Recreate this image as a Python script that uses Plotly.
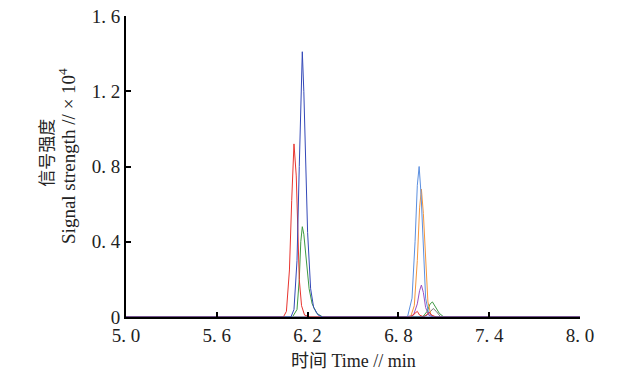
import plotly.graph_objects as go

# ---- data (time in min, signal ×10^4) ----
red_t = [5.0, 5.6, 6.04, 6.06, 6.08, 6.095, 6.11, 6.125, 6.135, 6.145, 6.16, 6.18, 6.22, 6.88, 6.91, 6.925, 6.94, 6.97, 6.99, 7.005, 7.02, 7.05, 7.6, 8.0]
red_y = [0.0, 0.0, 0.0, 0.03, 0.25, 0.62, 0.92, 0.75, 0.45, 0.2, 0.06, 0.01, 0.0, 0.0, 0.02, 0.03, 0.01, 0.0, 0.015, 0.025, 0.01, 0.0, 0.0, 0.0]

navy_t = [5.0, 5.7, 6.09, 6.11, 6.13, 6.145, 6.155, 6.165, 6.175, 6.185, 6.2, 6.22, 6.24, 6.27, 6.3, 7.0, 8.0]
navy_y = [0.0, 0.0, 0.0, 0.04, 0.3, 0.8, 1.2, 1.41, 1.2, 0.85, 0.45, 0.15, 0.05, 0.01, 0.0, 0.0, 0.0]

green_t = [5.0, 6.1, 6.13, 6.145, 6.155, 6.165, 6.175, 6.19, 6.21, 6.23, 6.26, 6.3, 6.96, 6.99, 7.01, 7.025, 7.04, 7.07, 7.1, 8.0]
green_y = [0.0, 0.0, 0.04, 0.2, 0.4, 0.48, 0.44, 0.3, 0.15, 0.07, 0.02, 0.0, 0.0, 0.03, 0.07, 0.08, 0.06, 0.02, 0.0, 0.0]

lblue_t = [5.0, 6.8, 6.86, 6.89, 6.91, 6.925, 6.937, 6.95, 6.965, 6.98, 7.0, 7.03, 8.0]
lblue_y = [0.0, 0.0, 0.0, 0.1, 0.4, 0.7, 0.8, 0.65, 0.35, 0.1, 0.02, 0.0, 0.0]

orange_t = [5.0, 6.8, 6.88, 6.905, 6.925, 6.94, 6.952, 6.965, 6.98, 6.995, 7.015, 7.04, 8.0]
orange_y = [0.0, 0.0, 0.0, 0.06, 0.3, 0.58, 0.68, 0.55, 0.28, 0.08, 0.01, 0.0, 0.0]

purple_t = [5.0, 6.85, 6.9, 6.925, 6.94, 6.952, 6.965, 6.98, 7.0, 7.03, 8.0]
purple_y = [0.0, 0.0, 0.01, 0.07, 0.14, 0.17, 0.13, 0.05, 0.01, 0.0, 0.0]

gray_t = [5.0, 6.95, 6.99, 7.01, 7.03, 7.05, 7.08, 8.0]
gray_y = [0.0, 0.0, 0.01, 0.03, 0.045, 0.03, 0.0, 0.0]

x_ticks = [5.0, 5.6, 6.2, 6.8, 7.4, 8.0]
x_tick_labels = ["5. 0", "5. 6", "6. 2", "6. 8", "7. 4", "8. 0"]
y_ticks = [0, 0.4, 0.8, 1.2, 1.6]
y_tick_labels = ["0", "0. 4", "0. 8", "1. 2", "1. 6"]

series = [
    (gray_t, gray_y, "#777777"),
    (purple_t, purple_y, "#9b4fc0"),
    (green_t, green_y, "#3e9a44"),
    (orange_t, orange_y, "#f5963a"),
    (lblue_t, lblue_y, "#5b8fe0"),
    (red_t, red_y, "#e8352f"),
    (navy_t, navy_y, "#3348b8"),
]

SERIF = "Liberation Serif, Noto Sans CJK SC, serif"

fig = go.Figure()
for t, y, c in series:
    fig.add_trace(go.Scatter(x=t, y=y, mode="lines", line=dict(color=c, width=1),
                             showlegend=False, hoverinfo="skip"))

fig.update_layout(
    width=622, height=376,
    margin=dict(l=126, r=42, t=16, b=59, autoexpand=False),
    paper_bgcolor="white", plot_bgcolor="white",
    font=dict(family=SERIF, color="#222"),
    xaxis=dict(range=[5.0, 8.0], tickvals=x_ticks, ticktext=x_tick_labels,
               ticks="inside", ticklen=5, tickwidth=2, tickcolor="black",
               showline=True, linecolor="black", linewidth=2, showgrid=False,
               zeroline=False, automargin=False,
               tickfont=dict(size=19, family=SERIF, color="#222")),
    yaxis=dict(range=[0, 1.6], tickvals=y_ticks, ticktext=y_tick_labels,
               ticks="inside", ticklen=5, tickwidth=2, tickcolor="black",
               showline=True, linecolor="black", linewidth=2, showgrid=False,
               zeroline=False, automargin=False,
               tickfont=dict(size=19, family=SERIF, color="#222")),
    annotations=[
        dict(text="时间 Time // min", xref="paper", yref="paper", x=0.5, y=-0.146,
             xanchor="center", yanchor="middle", showarrow=False,
             font=dict(size=18, family=SERIF, color="#222")),
        dict(text="信号强度", xref="paper", yref="paper", x=-0.172, y=0.545,
             xanchor="center", yanchor="middle", textangle=-90, showarrow=False,
             font=dict(size=17, family=SERIF, color="#222")),
        dict(text="Signal strength // × 10<sup>4</sup>", xref="paper", yref="paper",
             x=-0.130, y=0.535, xanchor="center", yanchor="middle", textangle=-90,
             showarrow=False, font=dict(size=19, family=SERIF, color="#222")),
    ],
)

fig.write_html("out.html", config={"displayModeBar": False},
               post_script="document.body.style.margin='0';document.body.style.overflow='hidden';")
